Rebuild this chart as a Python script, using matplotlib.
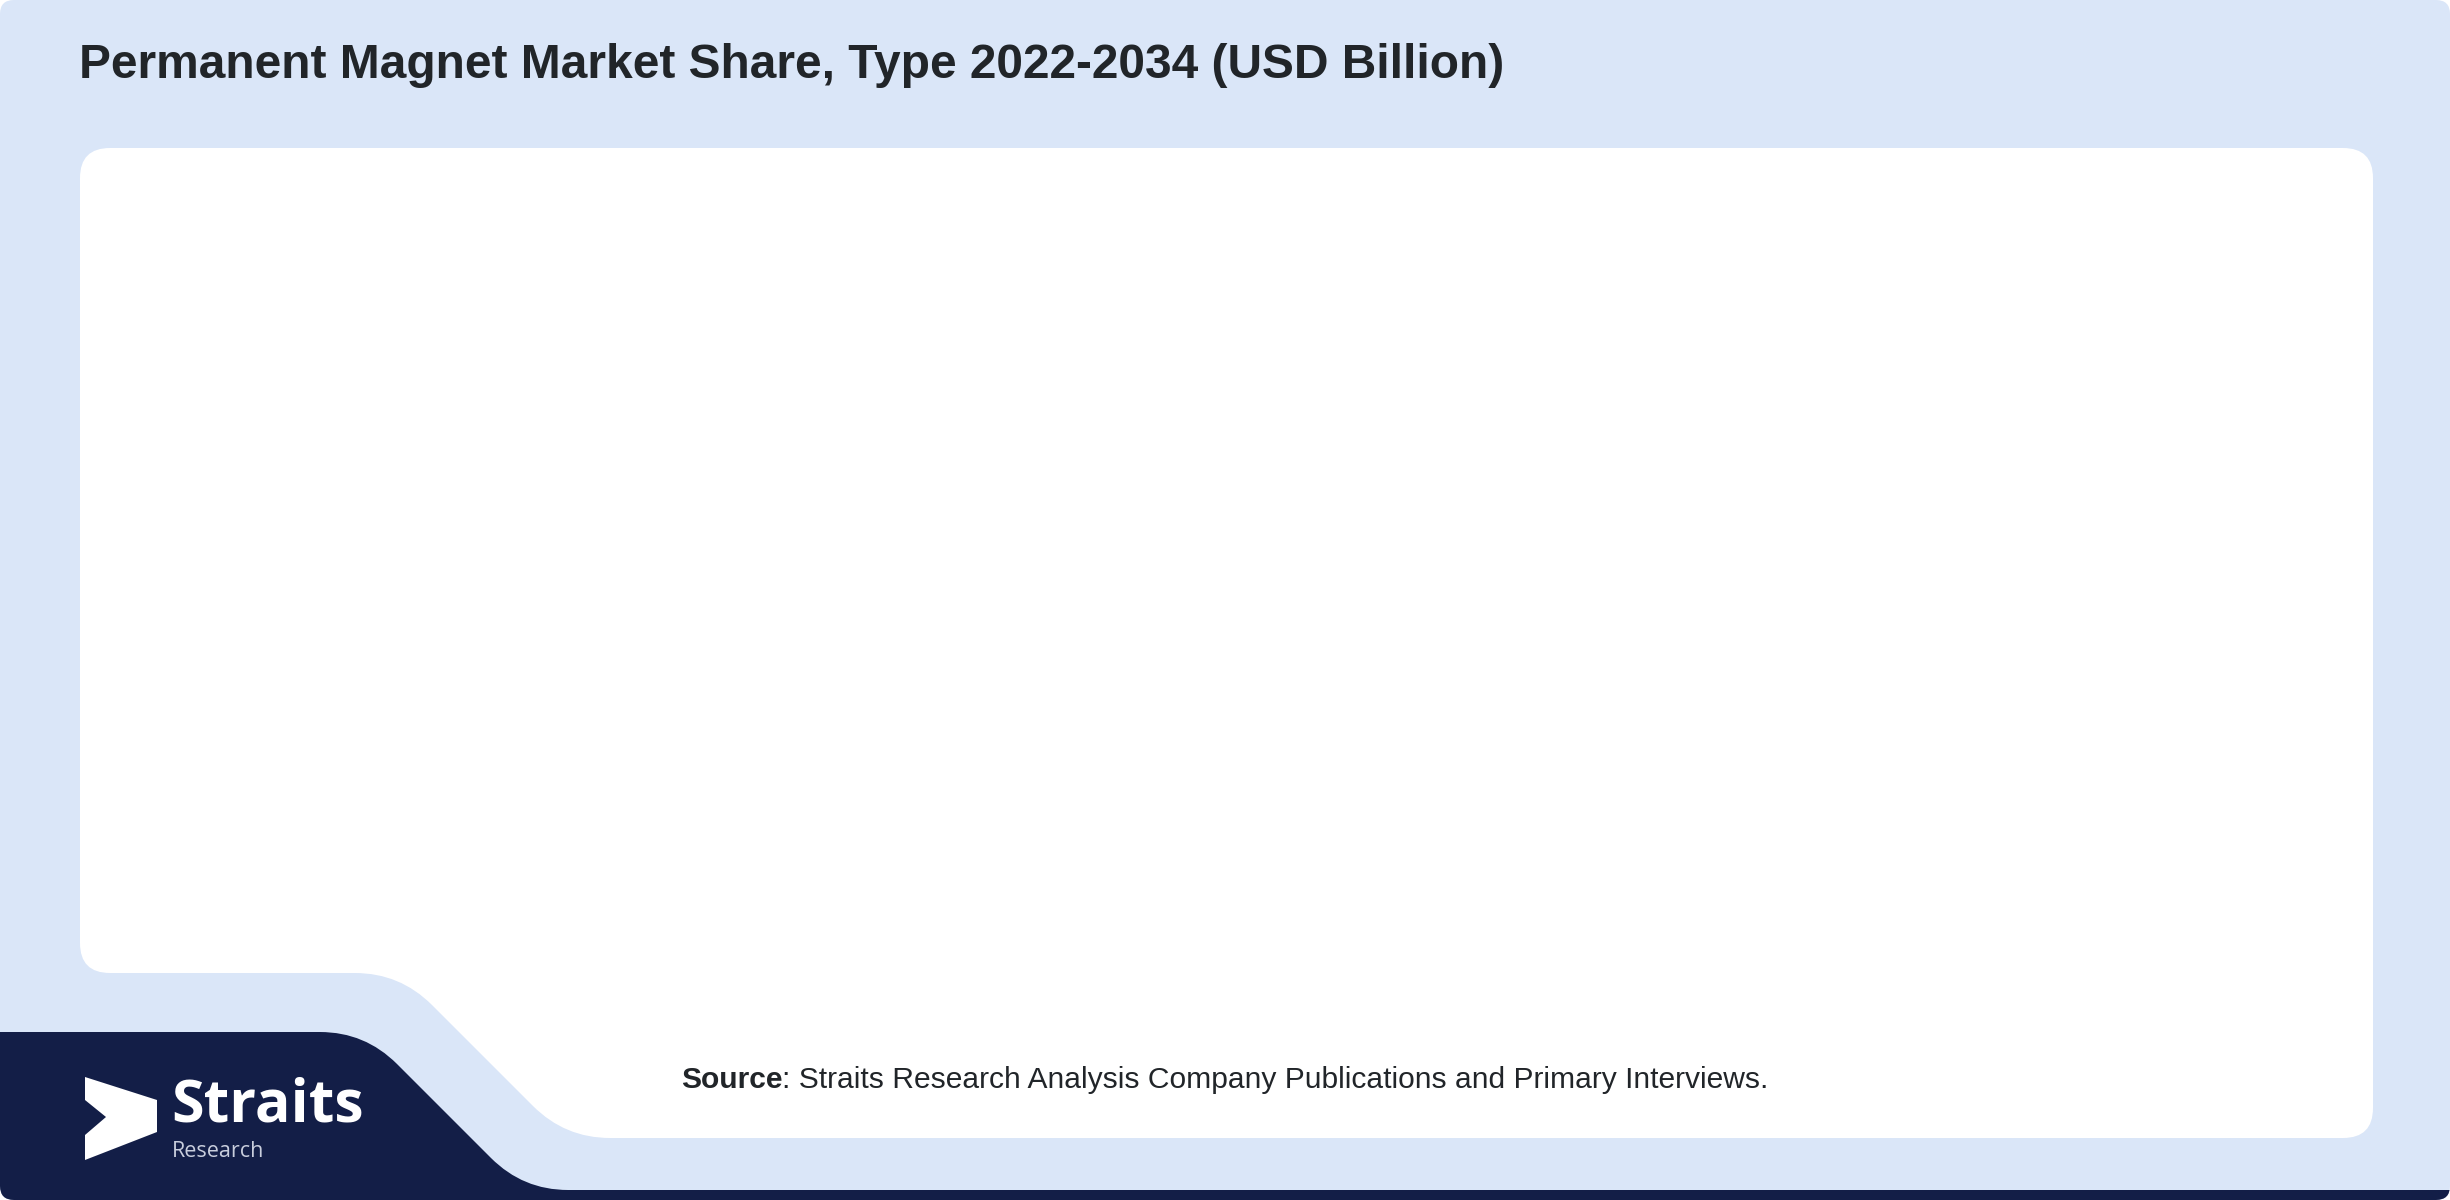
import matplotlib
matplotlib.use("Agg")
import matplotlib.pyplot as plt
from matplotlib.patches import FancyBboxPatch, PathPatch, Polygon
from matplotlib.path import Path

# text content of the chart (the chart body itself is empty)
title = "Permanent Magnet Market Share, Type 2022-2034 (USD Billion)"
source_label = "Source"
source_text = ": Straits Research Analysis Company Publications and Primary Interviews."
logo_main = "Straits"
logo_sub = "Research"

bg_blue = "#dae6f8"
navy = "#131e47"
ink = "#212529"

W, H = 2450, 1200
fig = plt.figure(figsize=(24.5, 12), dpi=100)
fig.patch.set_facecolor("white")
ax = fig.add_axes([0, 0, 1, 1])
ax.set_xlim(0, W)
ax.set_ylim(H, 0)
ax.axis("off")

# light blue card
card = FancyBboxPatch((0, 0), W, H, boxstyle="round,pad=0,rounding_size=14",
                      fc=bg_blue, ec="none")
ax.add_patch(card)

M, L, C3 = Path.MOVETO, Path.LINETO, Path.CURVE3

# navy band at the bottom left, running along the bottom edge
navy_verts = [(0, 1032), (320, 1032), (365, 1032), (397, 1064),
              (491, 1158), (523, 1190), (568, 1190),
              (W, 1190), (W, H), (0, H), (0, 1032)]
navy_codes = [M, L, C3, C3, L, C3, C3, L, L, L, Path.CLOSEPOLY]
nv = PathPatch(Path(navy_verts, navy_codes), fc=navy, ec="none")
ax.add_patch(nv)
nv.set_clip_path(card)

# white chart panel with the notch at the bottom left
x0, x1, y0, y1, r = 80, 2373, 148, 1138, 30
panel_verts = [(x0 + r, y0), (x1 - r, y0), (x1, y0), (x1, y0 + r),
               (x1, y1 - r), (x1, y1), (x1 - r, y1),
               (610, y1), (565, y1), (533, y1 - 32),
               (432, 1005), (400, 973), (355, 973),
               (x0 + r, 973), (x0, 973), (x0, 973 - r),
               (x0, y0 + r), (x0, y0), (x0 + r, y0), (x0 + r, y0)]
panel_codes = [M, L, C3, C3, L, C3, C3, L, C3, C3, L, C3, C3, L, C3, C3,
               L, C3, C3, Path.CLOSEPOLY]
ax.add_patch(PathPatch(Path(panel_verts, panel_codes), fc="white", ec="none"))

# title
ax.text(79, 78, title, fontsize=34.5, fontweight="bold", color=ink,
        family="Liberation Sans", va="baseline", ha="left")

# source line
t1 = ax.text(681, 1094, source_label, fontsize=21.6, fontweight="bold", color=ink,
             family="Liberation Sans", va="bottom", ha="left")
ax.annotate(source_text, xy=(1, 0), xycoords=t1, fontsize=21.6, color=ink,
            family="Liberation Sans", va="bottom", ha="left")

# logo
arrow = [(85, 1077), (157, 1100), (157, 1132), (85, 1160), (85, 1135),
         (106, 1117), (85, 1100)]
ax.add_patch(Polygon(arrow, closed=True, fc="white", ec="none"))
ax.text(171, 1122, logo_main, fontsize=42.5, fontweight="bold", color="white",
        family="Open Sans", va="baseline", ha="left")
ax.text(172, 1157, logo_sub, fontsize=15.5, color="#c9cedd",
        family="Open Sans", va="baseline", ha="left")

fig.savefig("out.png", dpi=100, facecolor="white")
